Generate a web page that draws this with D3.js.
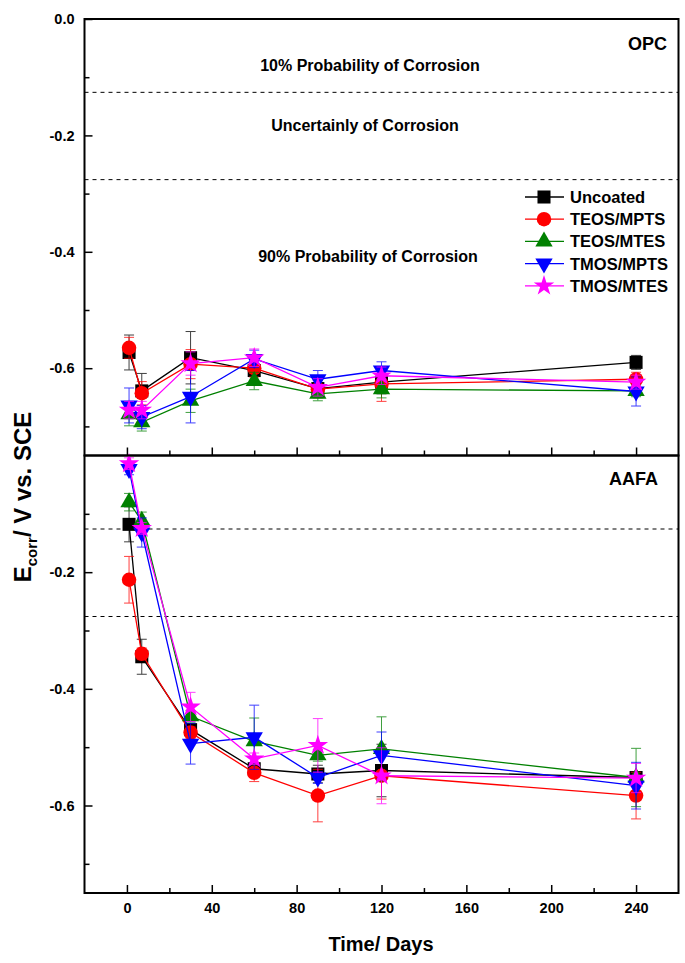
<!DOCTYPE html>
<html><head><meta charset="utf-8">
<script src="https://cdn.jsdelivr.net/npm/d3@7"></script>
<style>
html,body{margin:0;padding:0;background:#fff;}
svg{display:block;font-family:"Liberation Sans",Arial,sans-serif;font-weight:bold;}
</style></head>
<body>
<script>
// ---------------- DATA ----------------
const days = [1, 7, 30, 60, 90, 120, 240];
const seriesNames = ["Uncoated", "TEOS/MPTS", "TEOS/MTES", "TMOS/MPTS", "TMOS/MTES"];
const seriesColors = ["#000000", "#ff0000", "#008000", "#0000ff", "#ff00ff"];

// OPC panel (top)
const opcUncoated = [-0.573, -0.639, -0.582, -0.604, -0.635, -0.624, -0.590];
const opcTeosMpts = [-0.565, -0.643, -0.593, -0.600, -0.636, -0.627, -0.619];
const opcTeosMtes = [-0.679, -0.693, -0.656, -0.622, -0.644, -0.636, -0.639];
const opcTmosMpts = [-0.664, -0.684, -0.649, -0.584, -0.619, -0.604, -0.640];
const opcTmosMtes = [-0.672, -0.672, -0.592, -0.582, -0.633, -0.613, -0.624];
const opcErrUncoated = [0.030, 0.030, 0.045, 0.020, 0.010, 0.020, 0.012];
const opcErrTeosMpts = [0.018, 0.020, 0.025, 0.015, 0.015, 0.030, 0.012];
const opcErrTeosMtes = [0.020, 0.015, 0.020, 0.015, 0.012, 0.015, 0.010];
const opcErrTmosMpts = [0.030, 0.020, 0.045, 0.015, 0.015, 0.015, 0.025];
const opcErrTmosMtes = [0.015, 0.015, 0.020, 0.015, 0.015, 0.015, 0.012];

// AAFA panel (bottom)
const aafaUncoated = [-0.118, -0.345, -0.470, -0.537, -0.546, -0.540, -0.552];
const aafaTeosMpts = [-0.213, -0.340, -0.475, -0.544, -0.583, -0.549, -0.583];
const aafaTeosMtes = [-0.080, -0.112, -0.447, -0.490, -0.514, -0.503, -0.552];
const aafaTmosMpts = [-0.023, -0.132, -0.494, -0.483, -0.552, -0.514, -0.566];
const aafaTmosMtes = [-0.014, -0.125, -0.431, -0.520, -0.497, -0.549, -0.553];
const aafaErrUncoated = [0.030, 0.030, 0.010, 0.010, 0.015, 0.045, 0.010];
const aafaErrTeosMpts = [0.040, 0.010, 0.010, 0.015, 0.045, 0.040, 0.040];
const aafaErrTeosMtes = [0.015, 0.015, 0.010, 0.040, 0.010, 0.055, 0.050];
const aafaErrTmosMpts = [0.010, 0.025, 0.035, 0.055, 0.010, 0.040, 0.040];
const aafaErrTmosMtes = [0.010, 0.010, 0.025, 0.010, 0.046, 0.048, 0.025];

// thresholds (ASTM C876, V vs SCE)
const thresholds = [-0.126, -0.276];

const yMajorTop = [0, -0.2, -0.4, -0.6];
const yMajorBot = [-0.2, -0.4, -0.6];
const yMinor = [-0.1, -0.3, -0.5, -0.7];
const xMajor = [0, 40, 80, 120, 160, 200, 240];
const xMinor = [20, 60, 100, 140, 180, 220];

// ---------------- LAYOUT ----------------
const W = 685, H = 963;
const L = 84.5, R = 678.5;
const topY0 = 19, midY = 455.5, botY1 = 893;

const svg = d3.select("body").append("svg").attr("width", W).attr("height", H);

const x = d3.scaleLinear().domain([-20, 260]).range([L, R]);
const yTop = d3.scaleLinear().domain([-0.75, 0]).range([midY, topY0]);
const yBot = d3.scaleLinear().domain([-0.75, 0]).range([botY1, midY]);

const symbols = [
  d3.symbol().type(d3.symbolSquare).size(170),
  d3.symbol().type(d3.symbolCircle).size(165),
  d3.symbol().type(d3.symbolTriangle).size(130),
  d3.symbol().type(d3.symbolTriangle).size(130),
  d3.symbol().type(d3.symbolStar).size(130)
];
const symRot = [0, 0, 0, 180, 0];

function drawPanel(y, series, errs, isBottom, label, labelX, labelY) {
  const g = svg.append("g");
  thresholds.forEach(t => {
    g.append("line").attr("x1", L).attr("x2", R).attr("y1", y(t)).attr("y2", y(t))
      .attr("stroke", "#000").attr("stroke-width", 1).attr("stroke-dasharray", "4,4");
  });
  const yAx = d3.axisLeft(y).tickValues(isBottom ? yMajorBot : yMajorTop)
    .tickFormat(d => d === 0 ? "0.0" : d3.format(".1f")(d).replace("\u2212", "-"))
    .tickSizeInner(-8).tickSizeOuter(0).tickPadding(10);
  const ya = g.append("g").attr("transform", `translate(${L},0)`).call(yAx);
  ya.select(".domain").remove();
  ya.selectAll("line").attr("stroke-width", 1.5);
  ya.selectAll("text").attr("font-size", 14.5).attr("font-weight", "bold")
    .attr("font-family", "Liberation Sans, Arial, sans-serif");
  const yMin = d3.axisLeft(y).tickValues(yMinor).tickFormat("").tickSizeInner(-5).tickSizeOuter(0);
  const ym = g.append("g").attr("transform", `translate(${L},0)`).call(yMin);
  ym.select(".domain").remove();
  ym.selectAll("line").attr("stroke-width", 1.5);
  const y0 = y.range()[0];
  const xAx = d3.axisBottom(x).tickValues(xMajor).tickSizeInner(-8).tickSizeOuter(0).tickPadding(10)
    .tickFormat(isBottom ? d3.format("d") : "");
  const xa = g.append("g").attr("transform", `translate(0,${y0})`).call(xAx);
  xa.select(".domain").remove();
  xa.selectAll("line").attr("stroke-width", 1.5);
  xa.selectAll("text").attr("font-size", 14.5).attr("font-weight", "bold")
    .attr("font-family", "Liberation Sans, Arial, sans-serif");
  const xMin = d3.axisBottom(x).tickValues(xMinor).tickFormat("").tickSizeInner(-5).tickSizeOuter(0);
  const xm = g.append("g").attr("transform", `translate(0,${y0})`).call(xMin);
  xm.select(".domain").remove();
  xm.selectAll("line").attr("stroke-width", 1.5);

  series.forEach((vals, i) => {
    const col = seriesColors[i];
    const pts = days.map((d, j) => ({ d, v: vals[j], e: errs[i][j] }));
    const line = d3.line().x(p => x(p.d)).y(p => y(p.v));
    g.append("path").datum(pts).attr("d", line).attr("fill", "none")
      .attr("stroke", col).attr("stroke-width", 1.3);
    const eb = g.append("g").attr("stroke", col).attr("stroke-width", 1).attr("opacity", 0.75);
    pts.forEach(p => {
      const xx = x(p.d), ya1 = y(p.v + p.e), ya2 = y(p.v - p.e);
      eb.append("line").attr("x1", xx).attr("x2", xx).attr("y1", ya1).attr("y2", ya2);
      eb.append("line").attr("x1", xx - 5).attr("x2", xx + 5).attr("y1", ya1).attr("y2", ya1);
      eb.append("line").attr("x1", xx - 5).attr("x2", xx + 5).attr("y1", ya2).attr("y2", ya2);
    });
    g.append("g").selectAll("path").data(pts).join("path")
      .attr("d", symbols[i])
      .attr("transform", p => `translate(${x(p.d)},${y(p.v)}) rotate(${symRot[i]})`)
      .attr("fill", col);
  });

  g.append("rect").attr("x", L).attr("y", y.range()[1]).attr("width", R - L)
    .attr("height", y.range()[0] - y.range()[1]).attr("fill", "none")
    .attr("stroke", "#000").attr("stroke-width", 2);

  g.append("text").attr("x", labelX).attr("y", labelY).attr("text-anchor", "end")
    .attr("font-size", 18).text(label);
}

drawPanel(yTop,
  [opcUncoated, opcTeosMpts, opcTeosMtes, opcTmosMpts, opcTmosMtes],
  [opcErrUncoated, opcErrTeosMpts, opcErrTeosMtes, opcErrTmosMpts, opcErrTmosMtes],
  false, "OPC", 667, 50);
drawPanel(yBot,
  [aafaUncoated, aafaTeosMpts, aafaTeosMtes, aafaTmosMpts, aafaTmosMtes],
  [aafaErrUncoated, aafaErrTeosMpts, aafaErrTeosMtes, aafaErrTmosMpts, aafaErrTmosMtes],
  true, "AAFA", 658, 485);

const ann = [
  ["10% Probability of Corrosion", 370, 71],
  ["Uncertainly of Corrosion", 365, 131],
  ["90% Probability of Corrosion", 368, 262]
];
ann.forEach(a => svg.append("text").attr("x", a[1]).attr("y", a[2])
  .attr("text-anchor", "middle").attr("font-size", 16).text(a[0]));

const lg = svg.append("g");
seriesNames.forEach((n, i) => {
  const cy = 197 + i * 22.2;
  lg.append("line").attr("x1", 525).attr("x2", 564).attr("y1", cy).attr("y2", cy)
    .attr("stroke", seriesColors[i]).attr("stroke-width", 1.3);
  lg.append("path").attr("d", symbols[i])
    .attr("transform", `translate(544,${cy}) rotate(${symRot[i]})`).attr("fill", seriesColors[i]);
  lg.append("text").attr("x", 570).attr("y", cy + 6).attr("font-size", 16.5).text(n);
});

svg.append("text").attr("x", 381).attr("y", 951).attr("text-anchor", "middle")
  .attr("font-size", 20).text("Time/ Days");
const yt = svg.append("text").attr("transform", "translate(31,497) rotate(-90)")
  .attr("text-anchor", "middle").attr("font-size", 24);
yt.append("tspan").text("E");
yt.append("tspan").attr("font-size", 15).attr("dy", 6).text("corr");
yt.append("tspan").attr("dy", -6).text("/ V vs. SCE");
</script>
</body></html>
